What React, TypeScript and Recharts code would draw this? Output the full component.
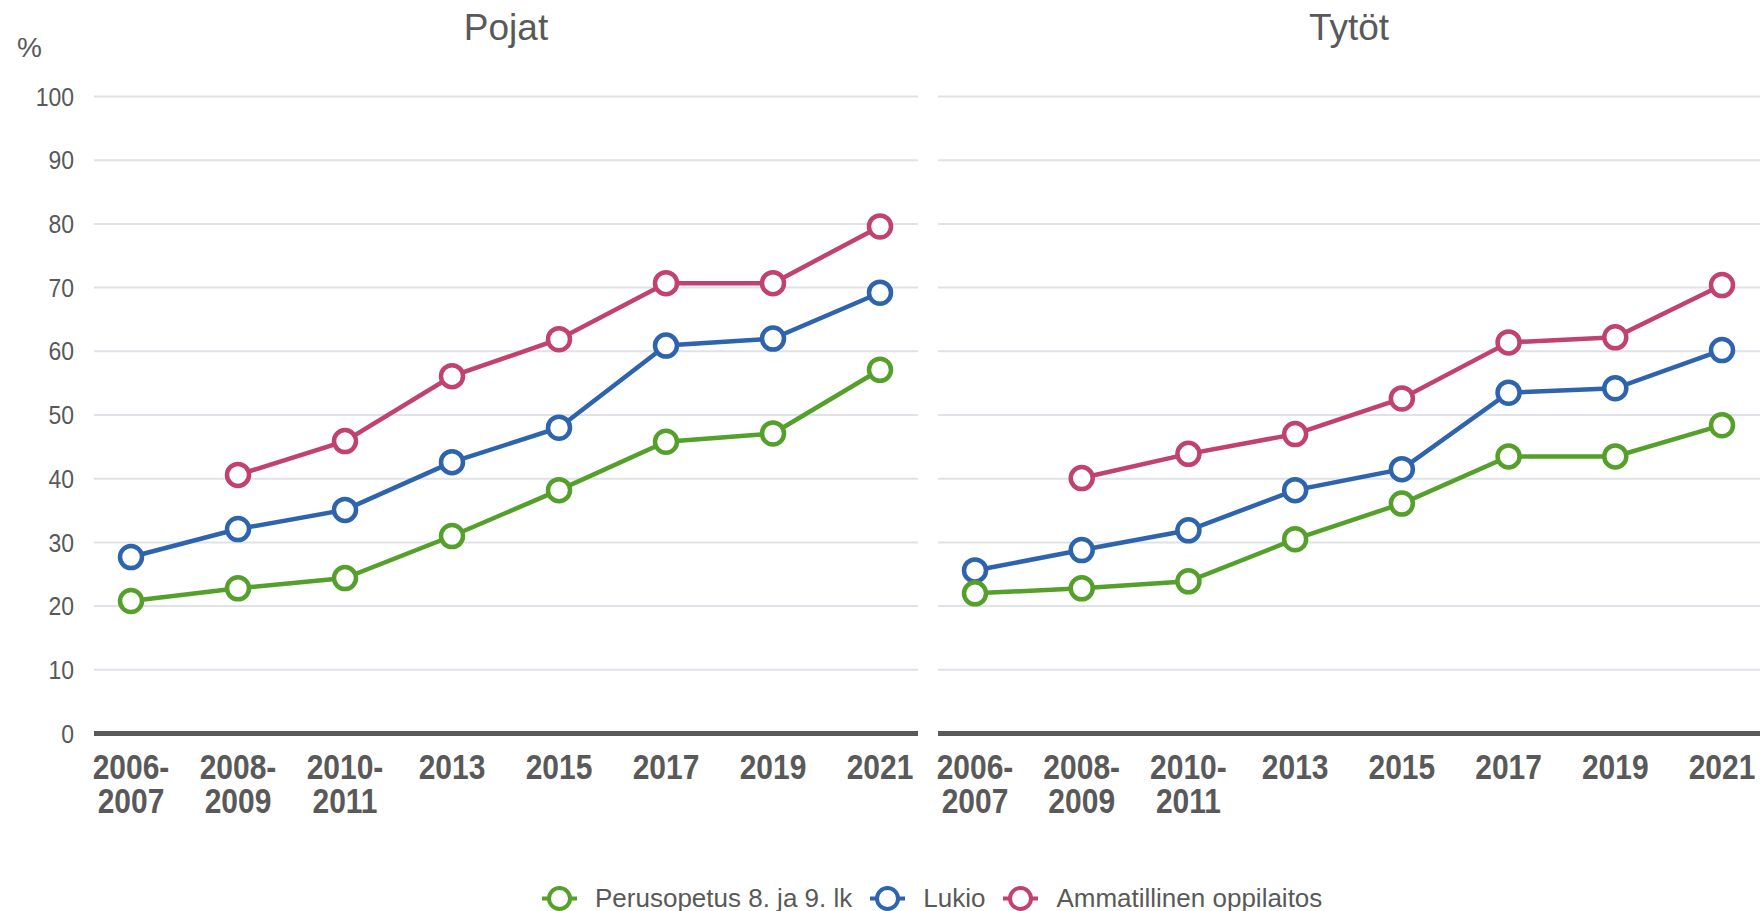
import React from "react";
import { LineChart, Line, XAxis, YAxis, CartesianGrid } from "recharts";

const categories = ["2006-2007", "2008-2009", "2010-2011", "2013", "2015", "2017", "2019", "2021"];
const yTicks = [0, 10, 20, 30, 40, 50, 60, 70, 80, 90, 100];

const seriesNames = ["Perusopetus 8. ja 9. lk", "Lukio", "Ammatillinen oppilaitos"];
const seriesColors = ["#55a02b", "#2e64ae", "#c1416f"];
const panelTitles = ["Pojat", "Tytöt"];

// Pojat
const boysBasic = [20.8, 22.8, 24.4, 31.0, 38.2, 45.8, 47.1, 57.1];
const boysUpper = [27.7, 32.1, 35.1, 42.6, 48.0, 60.9, 62.0, 69.2];
const boysVocational = [null, 40.6, 45.9, 56.1, 61.9, 70.7, 70.7, 79.6];

// Tytöt
const girlsBasic = [22.0, 22.8, 23.9, 30.5, 36.1, 43.5, 43.5, 48.4];
const girlsUpper = [25.6, 28.8, 31.9, 38.2, 41.5, 53.5, 54.2, 60.2];
const girlsVocational = [null, 40.1, 43.9, 47.0, 52.6, 61.4, 62.2, 70.4];

const FONT = '"Liberation Sans", Arial, sans-serif';
const TEXT = "#595959";

function buildRows(basic: (number | null)[], upper: (number | null)[], voc: (number | null)[]) {
  return categories.map((cat, i) => ({ cat, basic: basic[i], upper: upper[i], voc: voc[i] }));
}

const boysRows = buildRows(boysBasic, boysUpper, boysVocational);
const girlsRows = buildRows(girlsBasic, girlsUpper, girlsVocational);

// two-line labels for the period categories, slightly tall text like the original
const XTick = (props: any) => {
  const { x, y, payload } = props;
  const v = String(payload.value);
  const i = v.indexOf("-");
  const lines = i >= 0 ? [v.slice(0, i + 1), v.slice(i + 1)] : [v];
  return (
    <g transform={`translate(${x},${y})`}>
      <text transform="scale(1,1.15)" textAnchor="middle" fill={TEXT} fontSize={30} fontWeight="bold" fontFamily={FONT}>
        {lines.map((l, k) => (
          <tspan key={k} x={0} y={39.6 + k * 29.2}>
            {l}
          </tspan>
        ))}
      </text>
    </g>
  );
};

const YTick = (props: any) => {
  const { x, y, payload } = props;
  return (
    <g transform={`translate(${x},${y})`}>
      <text transform="scale(1,1.12)" x={0} y={0} dy="0.355em" textAnchor="end" fill={TEXT} fontSize={23} fontFamily={FONT}>
        {payload.value}
      </text>
    </g>
  );
};

function Panel({ rows, width, left, right, showY }: { rows: any[]; width: number; left: number; right: number; showY: boolean }) {
  const keys = ["voc", "upper", "basic"];
  const colorOf: Record<string, string> = { basic: seriesColors[0], upper: seriesColors[1], voc: seriesColors[2] };
  return (
    <LineChart width={width} height={911} data={rows} margin={{ top: 96.5, right, bottom: 117.5, left }}>
      <CartesianGrid vertical={false} stroke="#dfe2e6" strokeWidth={2} />
      <XAxis
        dataKey="cat"
        scale="point"
        padding={{ left: 37, right: 38 }}
        height={60}
        interval={0}
        axisLine={{ stroke: "#595959", strokeWidth: 5 }}
        tickLine={false}
        tickSize={0}
        tickMargin={0}
        tick={<XTick />}
      />
      <YAxis
        domain={[0, 100]}
        ticks={yTicks}
        interval={0}
        width={showY ? 94 : 0}
        hide={!showY}
        axisLine={false}
        tickLine={false}
        tickSize={0}
        tickMargin={20}
        tick={<YTick />}
      />
      {keys.map((k) => (
        <Line
          key={k}
          type="linear"
          dataKey={k}
          stroke={colorOf[k]}
          strokeWidth={4.5}
          dot={{ r: 11, fill: "#ffffff", stroke: colorOf[k], strokeWidth: 4.5 }}
          activeDot={false}
          isAnimationActive={false}
        />
      ))}
    </LineChart>
  );
}

function LegendIcon({ color }: { color: string }) {
  return (
    <svg width={35} height={27} style={{ display: "block", marginRight: 18 }}>
      <line x1={0} x2={35} y1={13.5} y2={13.5} stroke={color} strokeWidth={4} />
      <circle cx={17.5} cy={13.5} r={10.5} fill="#ffffff" stroke={color} strokeWidth={4} />
    </svg>
  );
}

export default function App() {
  return (
    <div style={{ position: "absolute", left: 0, top: 0, width: 1760, height: 911, background: "#ffffff", fontFamily: FONT }}>
      <div style={{ position: "absolute", left: 0, top: 0 }}>
        <Panel rows={boysRows} width={940} left={0} right={22} showY />
      </div>
      <div style={{ position: "absolute", left: 900, top: 0 }}>
        <Panel rows={girlsRows} width={860} left={38} right={0} showY={false} />
      </div>
      <svg width={1760} height={80} style={{ position: "absolute", left: 0, top: 0, pointerEvents: "none" }}>
        <text x={17} y={57} fontSize={28} fill={TEXT} fontFamily={FONT}>
          %
        </text>
        <text x={506} y={40} fontSize={37} fill={TEXT} fontFamily={FONT} textAnchor="middle">
          {panelTitles[0]}
        </text>
        <text x={1349} y={40} fontSize={37} fill={TEXT} fontFamily={FONT} textAnchor="middle">
          {panelTitles[1]}
        </text>
      </svg>
      <div style={{ position: "absolute", left: 542, top: 885, display: "flex", alignItems: "center", height: 27 }}>
        {seriesNames.map((name, i) => (
          <div key={name} style={{ display: "flex", alignItems: "center", marginRight: 18 }}>
            <LegendIcon color={seriesColors[i]} />
            <span style={{ fontSize: 26, color: TEXT, lineHeight: "27px", whiteSpace: "nowrap" }}>{name}</span>
          </div>
        ))}
      </div>
    </div>
  );
}
